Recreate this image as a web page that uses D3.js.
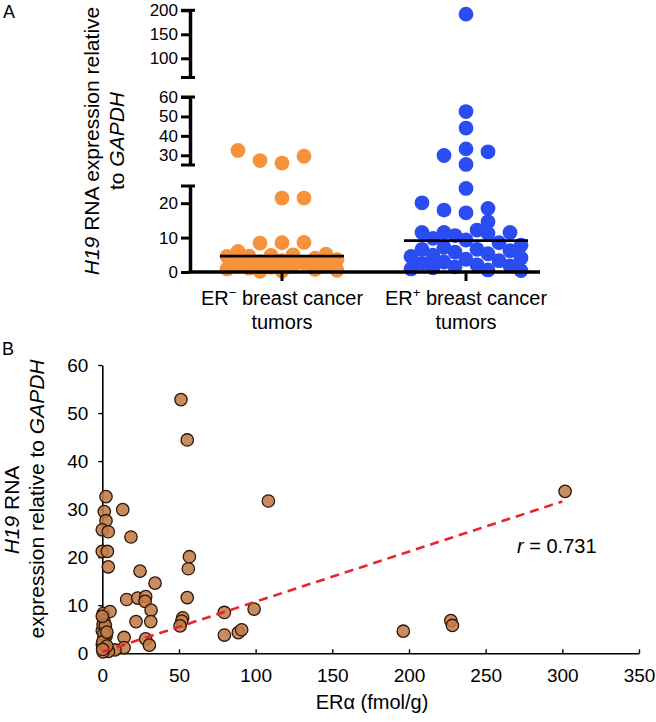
<!DOCTYPE html>
<html><head><meta charset="utf-8">
<script src="https://cdn.jsdelivr.net/npm/d3@7"></script>
<style>
body{margin:0;background:#fff;}
svg{display:block;font-family:"Liberation Sans",Arial,Helvetica,sans-serif;}
</style></head><body>
<svg id="chart" width="656" height="722"></svg>
<script>
// ---------- Panel A data ----------
const categoriesA = ["ER−", "ER+"];
const categorySup = ["−", "+"];
const erNegValues = [26, 29.5, 27.3, 32.5, 21.5, 21.5, 8.5, 8.6, 8.4, 6.0, 5.2, 5.0, 4.8, 4.6, 4.5, 4.0, 3.6, 3.3, 3.0, 2.6, 2.3, 2.0, 1.7, 1.4, 1.1, 0.9, 0.7, 0.5, 0.3, 0.2];
const erPosValues = [192, 44, 52.5, 25.3, 31.8, 29.9, 33.3, 24.3, 17.2, 18.5, 18, 20.1, 14.6, 9.3, 11.5, 11.5, 11.5, 12.2, 11.2, 9.8, 10.6,
  8.5, 7.8, 7.2, 6.6, 6.6, 6.2, 5.8, 5.3, 4.9, 4.5, 4.1, 3.7, 3.3, 2.9, 2.5, 2.1, 1.8, 1.5, 1.2, 0.9, 0.6, 0.4];
const mediansA = [4.6, 9.1];
const ySegmentsA = [[0, 25], [25, 60], [60, 200]];
const yTicksA = [[0, 10, 20], [30, 40, 50, 60], [100, 150, 200]];

// ---------- Panel B data ----------
const erAlpha = [51.3, 55.4, 108.3, 2.4, 1.3, 2.4, 0, 3.9, 0, 3.3, 3.9, 13.3, 18.7, 24.6, 34.4, 15.9, 23.1, 28.3, 27.9, 31.8,
  22.0, 31.6, 14.2, 28.3, 30.7, 14.2, 8.3, 56.8, 56.1, 55.4, 52.4, 51.8, 50.7, 79.6, 79.6, 88.7, 90.9, 99.0, 301.8, 196.3,
  227.3, 228.3, 0.7, 5.0, 1.0, 1.8, 0, 2.4, 1.0, 0, 1.8, 4.0, 0.5, 0.5, 2.0, 1.0, 0.3, 3.0, 0.2, 0, 3.0];
const h19 = [52.8, 44.4, 31.7, 32.6, 29.5, 27.6, 25.7, 25.3, 21.2, 21.2, 18.0, 29.9, 24.2, 17.1, 14.6, 11.2, 11.5, 11.8, 10.8, 9.0,
  6.6, 6.6, 3.3, 3.0, 1.7, 1.2, 0.7, 20.1, 17.6, 11.6, 7.4, 6.7, 5.7, 8.5, 3.8, 4.3, 4.9, 9.2, 33.7, 4.6,
  6.8, 5.8, 8.3, 8.7, 6.8, 5.2, 4.7, 3.5, 2.9, 1.9, 1.2, 0.4, 0.3, 6.0, 5.8, 4.0, 2.4, 1.5, 0.8, 7.7, 4.4];
const fitX = [0, 300];
const fitY = [0.3, 31.6];
const xTicksB = [0, 50, 100, 150, 200, 250, 300, 350];
const yTicksB = [0, 10, 20, 30, 40, 50, 60];
const rValue = "0.731";

// ---------- Setup ----------
const svg = d3.select("#chart");
const ORANGE = "#f7923a", BLUE = "#2a4df2";

// Panel letters
svg.append("text").attr("x", 3).attr("y", 18).attr("font-size", 18).text("A");
svg.append("text").attr("x", 2).attr("y", 355).attr("font-size", 18).text("B");

// ===== Panel A =====
const axisXA = 190;
const segRanges = [[272, 186], [165, 97], [77.5, 10.3]];
const segScales = ySegmentsA.map((d, i) => d3.scaleLinear().domain(d).range(segRanges[i]));
function yA(v) {
  if (v <= 25) return segScales[0](v);
  if (v <= 60) return segScales[1](v);
  return segScales[2](v);
}
const xA = d3.scalePoint().domain(categoriesA).range([282, 466]);

// Swarm layout (deterministic)
function swarm(values, cx) {
  const offsets = [0, 22, -22, -44, 44, 11, -11, 33, -33, 55, -55];
  const minDist = 13;
  const placed = [];
  values.forEach(v => {
    const y = yA(v);
    let chosen = null;
    for (const o of offsets) {
      if (placed.every(p => Math.hypot(p.x - (cx + o), p.y - y) >= minDist)) { chosen = o; break; }
    }
    if (chosen === null) {
      let best = -1;
      offsets.forEach(o => {
        const md = d3.min(placed, p => Math.hypot(p.x - (cx + o), p.y - y));
        if (md > best) { best = md; chosen = o; }
      });
    }
    placed.push({x: cx + chosen, y, v});
  });
  return placed;
}
const gA = svg.append("g");
[[erNegValues, ORANGE], [erPosValues, BLUE]].forEach(([vals, col], i) => {
  const pts = swarm(vals, xA(categoriesA[i]));
  gA.append("g").selectAll("circle").data(pts).join("circle")
    .attr("cx", d => d.x).attr("cy", d => d.y).attr("r", 7.4).attr("fill", col);
});
// median lines
gA.append("g").selectAll("line").data(mediansA).join("line")
  .attr("x1", (d, i) => xA(categoriesA[i]) - 62).attr("x2", (d, i) => xA(categoriesA[i]) + 62)
  .attr("y1", d => yA(d)).attr("y2", d => yA(d))
  .attr("stroke", "#000").attr("stroke-width", 2.8);

// y axis segments
segScales.forEach((s, i) => {
  const ax = d3.axisLeft(s).tickValues(yTicksA[i]).tickSizeInner(9).tickSizeOuter(0).tickPadding(3);
  const g = gA.append("g").attr("transform", `translate(${axisXA},0)`).call(ax);
  g.select(".domain").attr("stroke-width", 3.5);
  g.selectAll(".tick line").attr("stroke-width", 3);
  g.selectAll(".tick text").attr("font-size", 17).attr("font-family", "inherit").attr("fill", "#000");
  const ends = s.range();
  ends.forEach((yy, k) => {
    if (i === 0 && k === 0) return;
    g.append("line").attr("x1", -9).attr("x2", 5).attr("y1", yy).attr("y2", yy)
      .attr("stroke", "#000").attr("stroke-width", 3);
  });
});
// x axis
const gxA = gA.append("g").attr("transform", "translate(0,272)");
gxA.append("line").attr("x1", axisXA - 1.5).attr("x2", 540).attr("y1", 0).attr("y2", 0)
  .attr("stroke", "#000").attr("stroke-width", 3.5);
gxA.selectAll("line.tk").data(categoriesA).join("line").attr("class", "tk")
  .attr("x1", d => xA(d)).attr("x2", d => xA(d)).attr("y1", 0).attr("y2", 9)
  .attr("stroke", "#000").attr("stroke-width", 3);
categoriesA.forEach((c, i) => {
  const t = gA.append("text").attr("x", xA(c)).attr("y", 305).attr("text-anchor", "middle").attr("font-size", 20);
  t.append("tspan").text("ER");
  t.append("tspan").attr("font-size", 13).attr("dy", -8).text(categorySup[i]);
  t.append("tspan").attr("dy", 8).text(" breast cancer");
  gA.append("text").attr("x", xA(c)).attr("y", 329).attr("text-anchor", "middle").attr("font-size", 20).text("tumors");
});
// y title A
const tA = gA.append("text").attr("transform", "translate(99,141) rotate(-90)").attr("text-anchor", "middle").attr("font-size", 21);
tA.append("tspan").attr("font-style", "italic").text("H19");
tA.append("tspan").text(" RNA expression relative");
const tA2 = gA.append("text").attr("transform", "translate(124,141) rotate(-90)").attr("text-anchor", "middle").attr("font-size", 21);
tA2.append("tspan").text("to ");
tA2.append("tspan").attr("font-style", "italic").text("GAPDH");

// ===== Panel B =====
const xB = d3.scaleLinear().domain([0, 350]).range([102.3, 639]);
const yB = d3.scaleLinear().domain([0, 60]).range([653.3, 365]);
const gB = svg.append("g");
const axB = d3.axisBottom(xB).tickValues(xTicksB).tickSizeInner(-4).tickSizeOuter(0).tickPadding(15);
const gxB = gB.append("g").attr("transform", `translate(0,${yB(0)})`).call(axB);
const ayB = d3.axisLeft(yB).tickValues(yTicksB).tickSizeInner(4).tickSizeOuter(0).tickPadding(10);
const gyB = gB.append("g").attr("transform", `translate(${xB(0)},0)`).call(ayB);
[gxB, gyB].forEach(g => {
  g.select(".domain").attr("stroke-width", 1.6);
  g.selectAll(".tick line").attr("stroke-width", 1.4);
  g.selectAll(".tick text").attr("font-size", 19).attr("font-family", "inherit").attr("fill", "#000");
});
// points
const ptsB = erAlpha.map((x, i) => ({x, y: h19[i]}));
gB.append("g").selectAll("circle").data(ptsB).join("circle")
  .attr("cx", d => xB(d.x)).attr("cy", d => yB(d.y)).attr("r", 6.2)
  .attr("fill", "#c27c48").attr("fill-opacity", 0.88)
  .attr("stroke", "#2e1508").attr("stroke-width", 1.3);
// fit line
gB.append("line").attr("x1", xB(fitX[0])).attr("y1", yB(fitY[0])).attr("x2", xB(fitX[1])).attr("y2", yB(fitY[1]))
  .attr("stroke", "#e8262a").attr("stroke-width", 2.6).attr("stroke-dasharray", "9,6");
// r label
const rt = gB.append("text").attr("x", 517).attr("y", 553).attr("font-size", 20);
rt.append("tspan").attr("font-style", "italic").text("r");
rt.append("tspan").text(" = " + rValue);
// titles
gB.append("text").attr("x", 372).attr("y", 709).attr("text-anchor", "middle").attr("font-size", 20).text("ERα (fmol/g)");
const tB1 = gB.append("text").attr("transform", "translate(19,510) rotate(-90)").attr("text-anchor", "middle").attr("font-size", 21);
tB1.append("tspan").attr("font-style", "italic").text("H19");
tB1.append("tspan").text(" RNA");
const tB2 = gB.append("text").attr("transform", "translate(44,499) rotate(-90)").attr("text-anchor", "middle").attr("font-size", 21);
tB2.append("tspan").text("expression relative to ");
tB2.append("tspan").attr("font-style", "italic").text("GAPDH");
</script></body></html>
